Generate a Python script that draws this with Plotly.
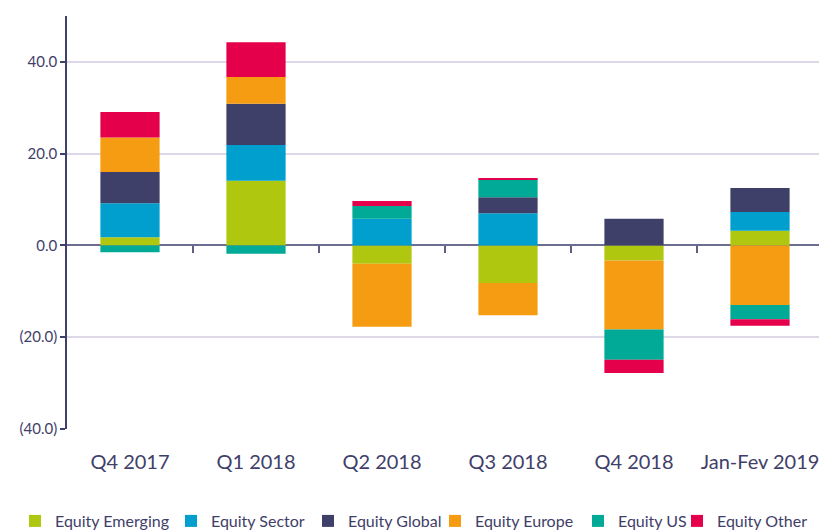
import plotly.graph_objects as go

categories = ["Q4 2017", "Q1 2018", "Q2 2018", "Q3 2018", "Q4 2018", "Jan-Fev 2019"]

equity_emerging = [1.8, 14.1, -4.0, -8.2, -3.3, 3.2]
equity_sector = [7.4, 7.8, 5.8, 7.0, 0.0, 4.1]
equity_global = [6.8, 9.0, 0.0, 3.5, 5.8, 5.2]
equity_europe = [7.5, 5.8, -13.7, -7.0, -15.0, -13.0]
equity_us = [-1.5, -1.8, 2.8, 3.9, -6.6, -3.1]
equity_other = [5.6, 7.6, 1.1, 0.3, -2.9, -1.4]

series_names = ["Equity Emerging", "Equity Sector", "Equity Global",
                "Equity Europe", "Equity US", "Equity Other"]
series_values = [equity_emerging, equity_sector, equity_global,
                 equity_europe, equity_us, equity_other]
series_colors = ["#AFC70F", "#009FCD", "#3F4069", "#F59C13", "#00AA96", "#E4004A"]
legend_widths = [111, 92, 82, 98, 54, 95]

y_tickvals = [-40, -20, 0, 20, 40]
y_ticktext = ["(40.0)", "(20.0)", "0.0", "20.0", "40.0"]

boundary_ticks = [i + 0.5 for i in range(len(categories))]

fig = go.Figure()
for name, vals, color, lw in zip(series_names, series_values, series_colors, legend_widths):
    fig.add_trace(go.Bar(
        x=categories, y=vals, name=name,
        marker=dict(color=color, line=dict(width=0)),
        legendwidth=lw,
    ))

# helper trace so the boundary-tick axis at zero is drawn
fig.add_trace(go.Scatter(x=[], y=[], xaxis="x2", showlegend=False, hoverinfo="skip"))

navy = "#3F4069"
# page body has an 8px margin, so the figure is sized 8px smaller
fig.update_layout(
    width=819, height=522,
    barmode="relative",
    bargap=0.53,
    plot_bgcolor="white", paper_bgcolor="white",
    margin=dict(l=59, r=4, t=8, b=101, autoexpand=False),
    font=dict(family="Lato", color=navy),
    showlegend=True,
    legend=dict(
        orientation="h", x=(7 - 59) / 756, xanchor="left",
        y=-(521 - 429) / 413, yanchor="middle",
        font=dict(size=16, color=navy), itemwidth=30,
        traceorder="normal",
    ),
    xaxis=dict(
        type="category", showline=False, showgrid=False, zeroline=False,
        ticks="", tickfont=dict(size=20, color=navy), ticklabelstandoff=19,
        automargin=False,
    ),
    xaxis2=dict(
        overlaying="x", anchor="free", position=40 / 90,
        range=[-0.5, len(categories) - 0.5],
        tickmode="array", tickvals=boundary_ticks,
        ticks="outside", ticklen=7, tickwidth=1.5, tickcolor="#5D6082",
        showticklabels=False, showline=False, showgrid=False, zeroline=False,
    ),
    yaxis=dict(
        range=[-40, 50], tickmode="array", tickvals=y_tickvals, ticktext=y_ticktext,
        showline=True, linecolor=navy, linewidth=1.5,
        ticks="outside", ticklen=5, tickcolor=navy, tickwidth=1.5,
        showgrid=True, gridcolor="#DDD7E8", gridwidth=1.5,
        zeroline=True, zerolinecolor="#6B6E8E", zerolinewidth=2,
        tickfont=dict(size=15, color=navy), automargin=False,
    ),
)

fig.write_html("out.html")
